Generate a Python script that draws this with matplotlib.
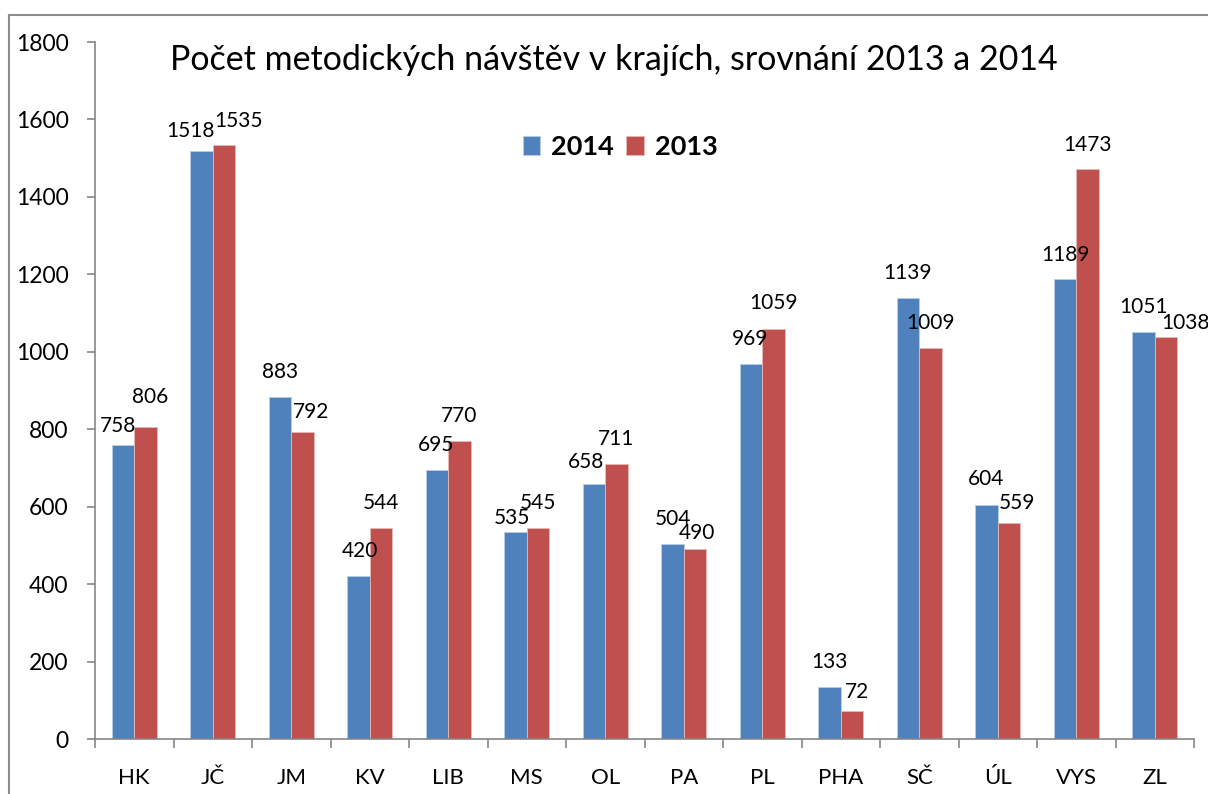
import numpy as np
import matplotlib.pyplot as plt
from matplotlib.lines import Line2D

# data
kraje = ['HK', 'JČ', 'JM', 'KV', 'LIB', 'MS', 'OL', 'PA', 'PL', 'PHA', 'SČ', 'ÚL', 'VYS', 'ZL']
v2014 = [758, 1518, 883, 420, 695, 535, 658, 504, 969, 133, 1139, 604, 1189, 1051]
v2013 = [806, 1535, 792, 544, 770, 545, 711, 490, 1059, 72, 1009, 559, 1473, 1038]
yticks = [0, 200, 400, 600, 800, 1000, 1200, 1400, 1600, 1800]
title = 'Počet metodických návštěv v krajích, srovnání 2013 a 2014'

# posun popisku (v pixelech) proti vrcholu sloupce
off2014 = [(-5, 19), (-11, 20), (0, 25), (1, 25), (-1, 25), (-4, 14), (-8, 22),
           (0, 25), (-1, 25), (0, 25), (0, 25), (0, 26), (0, 24), (0, 25)]
off2013 = [(5, 30), (15, 24), (9, 20), (0, 25), (0, 25), (0, 25), (0, 25),
           (2, 16), (0, 26), (5, 19), (0, 25), (8, 20), (0, 24), (19, 14)]

plt.rcParams['font.family'] = ['Lato', 'DejaVu Sans']
blue = '#4F81BD'
red = '#C0504D'
grey = '#868686'

W, H = 1208, 794
fig = plt.figure(figsize=(W / 100, H / 100), dpi=100)
ax = fig.add_axes([95 / W, 1 - 739 / H, 1099 / W, 697 / H])

x = np.arange(len(kraje))
bw = 0.287
b1 = ax.bar(x - bw / 2, v2014, bw, color=blue, edgecolor='#b9cde5', linewidth=0.6, label='2014')
b2 = ax.bar(x + bw / 2, v2013, bw, color=red, edgecolor='#e6b9b8', linewidth=0.6, label='2013')

for bars, vals, offs in ((b1, v2014, off2014), (b2, v2013, off2013)):
    for b, v, (dx, dy) in zip(bars, vals, offs):
        ax.annotate(str(v), (b.get_x() + b.get_width() / 2, v), xytext=(dx, dy),
                    textcoords='offset pixels', ha='center', va='center',
                    fontsize=15, color='black', annotation_clip=False)

ax.set_xlim(-0.5, len(kraje) - 0.5)
ax.set_ylim(0, 1800)
ax.set_yticks(yticks)
ax.set_xticks(x)
ax.set_xticklabels(kraje)
ax.set_xticks(np.arange(len(kraje) + 1) - 0.5, minor=True)
ax.tick_params(axis='x', which='major', length=0, pad=21, labelsize=16)
ax.tick_params(axis='x', which='minor', length=6.5, direction='out', color=grey, width=1.2)
ax.tick_params(axis='y', length=6, direction='out', color=grey, width=1.2, pad=13, labelsize=16.5)
for s in ('top', 'right'):
    ax.spines[s].set_visible(False)
for s in ('left', 'bottom'):
    ax.spines[s].set_color(grey)
    ax.spines[s].set_linewidth(1.2)

leg = fig.legend(handles=[b1, b2], loc='center', bbox_to_anchor=(620 / W, 1 - 147 / H),
                 ncol=2, frameon=False, prop={'weight': 'bold', 'size': 19.5},
                 handlelength=0.65, handleheight=0.65, handletextpad=0.4,
                 columnspacing=0.45, borderpad=0)

fig.text(614 / W, 1 - 70 / H, title, ha='center', va='baseline', fontsize=24.5)

# ramecek grafu (jen levy a horni okraj, zbytek je oriznuty)
ramecek = dict(color='#8c8c8c', linewidth=1.5, transform=fig.transFigure)
fig.add_artist(Line2D([9 / W, 9 / W], [-0.05, 1 - 15 / H], **ramecek))
fig.add_artist(Line2D([9 / W, 1.05], [1 - 15 / H, 1 - 15 / H], **ramecek))

fig.savefig('out.png', dpi=100)
